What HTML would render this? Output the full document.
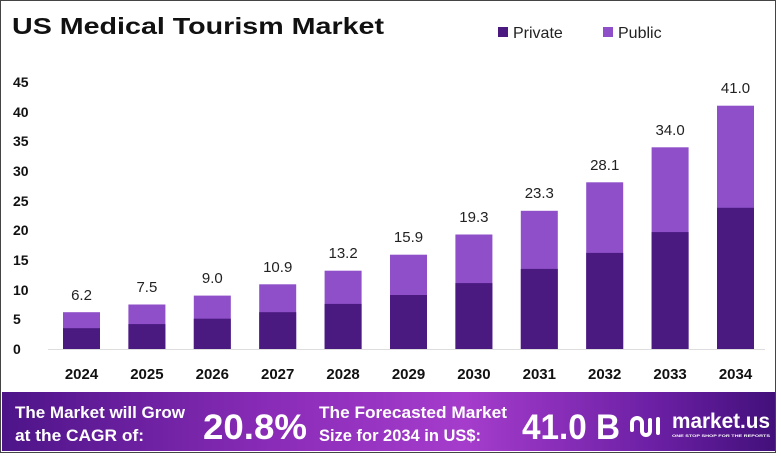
<!DOCTYPE html>
<html><head><meta charset="utf-8"><style>
body{margin:0;background:#fff}
svg{display:block}
</style></head><body>
<svg width="781" height="456" viewBox="0 0 781 456" xmlns="http://www.w3.org/2000/svg" font-family="Liberation Sans, sans-serif">
<defs>
<linearGradient id="bg" x1="0" x2="1" y1="0" y2="0">
<stop offset="0" stop-color="#4d1488"/>
<stop offset="0.35" stop-color="#8a2cb8"/>
<stop offset="0.6" stop-color="#a53ccc"/>
<stop offset="0.85" stop-color="#6a1fa3"/>
<stop offset="1" stop-color="#42107a"/>
</linearGradient>
</defs>
<rect x="0.5" y="0.5" width="775" height="452" fill="#fff" stroke="#444" stroke-width="1"/>
<text x="12" y="34" font-size="23" font-weight="bold" fill="#111" textLength="372" lengthAdjust="spacingAndGlyphs">US Medical Tourism Market</text>
<rect x="498" y="27" width="10" height="10" fill="#4a1a80"/>
<text x="513" y="38" font-size="16" fill="#222">Private</text>
<rect x="603" y="27" width="10" height="10" fill="#8e4fc8"/>
<text x="618" y="38" font-size="16" fill="#222">Public</text>
<g font-size="14" font-weight="bold" fill="#111">
<text x="13" y="354">0</text><text x="13" y="324">5</text><text x="13" y="295">10</text><text x="13" y="265">15</text><text x="13" y="235">20</text><text x="13" y="206">25</text><text x="13" y="176">30</text><text x="13" y="146">35</text><text x="13" y="117">40</text><text x="13" y="87">45</text>
</g>
<line x1="48" y1="349.5" x2="765" y2="349.5" stroke="#ddd"/>
<g fill="#8e4fc8">
<rect x="63" y="312.2" width="37" height="36.8"/>
<rect x="128.4" y="304.5" width="37" height="44.5"/>
<rect x="193.8" y="295.6" width="37" height="53.4"/>
<rect x="259.2" y="284.3" width="37" height="64.7"/>
<rect x="324.6" y="270.7" width="37" height="78.3"/>
<rect x="390" y="254.7" width="37" height="94.3"/>
<rect x="455.4" y="234.5" width="37" height="114.5"/>
<rect x="520.8" y="210.8" width="37" height="138.2"/>
<rect x="586.2" y="182.3" width="37" height="166.7"/>
<rect x="651.6" y="147.3" width="37" height="201.7"/>
<rect x="717" y="105.7" width="37" height="243.3"/>
</g>
<g fill="#4a1a80">
<rect x="63" y="328.2" width="37" height="20.8"/>
<rect x="128.4" y="324.1" width="37" height="24.9"/>
<rect x="193.8" y="318.7" width="37" height="30.3"/>
<rect x="259.2" y="312.2" width="37" height="36.8"/>
<rect x="324.6" y="303.9" width="37" height="45.1"/>
<rect x="390" y="295" width="37" height="54"/>
<rect x="455.4" y="283.1" width="37" height="65.9"/>
<rect x="520.8" y="268.9" width="37" height="80.1"/>
<rect x="586.2" y="252.9" width="37" height="96.1"/>
<rect x="651.6" y="232.1" width="37" height="116.9"/>
<rect x="717" y="207.8" width="37" height="141.2"/>
</g>
<g font-size="15" fill="#222" text-anchor="middle">
<text x="81.5" y="300">6.2</text><text x="146.9" y="292">7.5</text><text x="212.3" y="283">9.0</text><text x="277.7" y="272">10.9</text><text x="343.1" y="258">13.2</text><text x="408.5" y="242">15.9</text><text x="473.9" y="222">19.3</text><text x="539.3" y="198">23.3</text><text x="604.7" y="170">28.1</text><text x="670.1" y="135">34.0</text><text x="735.5" y="93">41.0</text>
</g>
<g font-size="15" font-weight="bold" fill="#111" text-anchor="middle">
<text x="81.5" y="379">2024</text><text x="146.9" y="379">2025</text><text x="212.3" y="379">2026</text><text x="277.7" y="379">2027</text><text x="343.1" y="379">2028</text><text x="408.5" y="379">2029</text><text x="473.9" y="379">2030</text><text x="539.3" y="379">2031</text><text x="604.7" y="379">2032</text><text x="670.1" y="379">2033</text><text x="735.5" y="379">2034</text>
</g>
<rect x="2" y="392" width="773" height="59" fill="url(#bg)"/>
<g fill="#fff" font-weight="bold">
<text x="15" y="418" font-size="17" textLength="170" lengthAdjust="spacingAndGlyphs">The Market will Grow</text>
<text x="15" y="441" font-size="17" textLength="129" lengthAdjust="spacingAndGlyphs">at the CAGR of:</text>
<text x="203" y="439" font-size="35" textLength="104" lengthAdjust="spacingAndGlyphs">20.8%</text>
<text x="319" y="418" font-size="17" textLength="188" lengthAdjust="spacingAndGlyphs">The Forecasted Market</text>
<text x="319" y="441" font-size="17" textLength="162" lengthAdjust="spacingAndGlyphs">Size for 2034 in US$:</text>
<text x="522" y="439" font-size="35" textLength="98" lengthAdjust="spacingAndGlyphs">41.0 B</text>
<text x="672" y="428" font-size="21" textLength="98" lengthAdjust="spacingAndGlyphs">market.us</text>
<text x="672" y="437" font-size="4" textLength="98" lengthAdjust="spacingAndGlyphs">ONE STOP SHOP FOR THE REPORTS</text>
</g>
<g fill="none" stroke="#fff" stroke-width="4" stroke-linecap="round">
<path d="M632 430 v-7 a5 5 0 0 1 10 0 v8 a4 4 0 0 0 8 0 v-11"/>
<path d="M658 419 v14"/>
</g>
</svg>
</body></html>
